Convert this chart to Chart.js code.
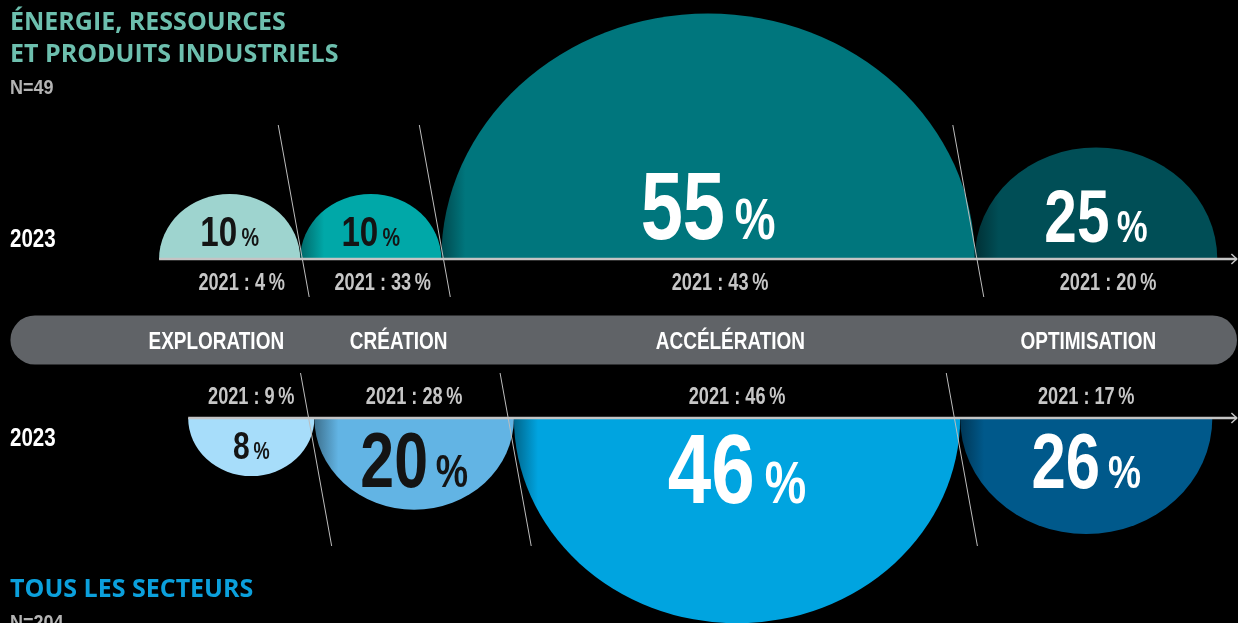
<!DOCTYPE html>
<html lang="fr">
<head>
<meta charset="utf-8">
<title>Phases 2023 / 2021</title>
<script src="https://cdn.jsdelivr.net/npm/chart.js@4.4.1/dist/chart.umd.min.js"></script>
<style>
	html, body { margin: 0; padding: 0; background: #000; }
	#wrap { position: relative; width: 1238px; height: 623px; overflow: hidden; background: #000; }
	#chart { position: absolute; left: 0; top: 0; }
	.title { position: absolute; left: 10px; font: 700 25px/32px "Open Sans", sans-serif; white-space: nowrap; }
	.count { position: absolute; left: 10px; font: 700 20px/20px "Liberation Sans", Arial, sans-serif; color: #b4b4b4; transform: scaleX(0.9); transform-origin: left top; }
</style>
</head>
<body>
<div id="wrap">
	<canvas id="chart" width="1238" height="623"></canvas>
	<div class="title" style="top:4px;color:#6dbfae">ÉNERGIE, RESSOURCES<br>ET PRODUITS INDUSTRIELS</div>
	<div class="count" style="top:77px">N=49</div>
	<div class="title" style="top:571px;color:#0ba0dc">TOUS LES SECTEURS</div>
	<div class="count" style="top:612px">N=204</div>
</div>
<script>
// Data
const PHASES = ["EXPLORATION", "CRÉATION", "ACCÉLÉRATION", "OPTIMISATION"];
const SECTOR_2023 = [10, 10, 55, 25];
const SECTOR_2021 = [4, 33, 43, 20];
const ALL_2023 = [8, 20, 46, 26];
const ALL_2021 = [9, 28, 46, 17];
const YEAR_NOW = "2023";
const YEAR_PREV = "2021";

// Layout: x in percentage points, y in pixels from the top
const PX_PER_PT = 9.7;
const X_MAX = 1238 / PX_PER_PT;
const X_END = 127.5;
const SMALL_K = 4.6; // small shares grow with sqrt so the label still fits
const FLAT = 0.92; // shapes are slightly flattened half-discs
const ROW_TOP = { y: 259, start: 16.4, up: true };
const ROW_BOTTOM = { y: 418, start: 19.4, up: false };
const BAR = { y: 340, from: 3.6, to: 125.0 };
const PHASE_X = [22.3, 41.1, 75.3, 112.2];
const SLANT = 0.18 / PX_PER_PT;

// Styles
const FONT = '"Liberation Sans", Arial, sans-serif';
const COND = 0.79; // condensed look: text is squeezed horizontally
const TOP_COLORS = ["#9ed4cf", "#00a8a8", "#00767d", "#004e56"];
const BOTTOM_COLORS = ["#a7ddfa", "#62b4e4", "#00a4e0", "#00598b"];
const TOP_TEXT = ["#141414", "#141414", "#ffffff", "#ffffff"];
const BOTTOM_TEXT = ["#141414", "#141414", "#ffffff", "#ffffff"];
const TOP_SIZE = [42, 42, 96, 74];
const BOTTOM_SIZE = [38, 77, 99, 78];
const AXIS_COLOR = "#c4c4c4";

const segments = (values, start) => {
	let x = start;
	return values.map((v) => {
		const w = Math.max(v, SMALL_K * Math.sqrt(v));
		const seg = { from: x, to: x + w, mid: x + w / 2, w };
		x += w;
		return seg;
	});
};
const topSegs = segments(SECTOR_2023, ROW_TOP.start);
const bottomSegs = segments(ALL_2023, ROW_BOTTOM.start);

const darken = (hex, f) => {
	const n = parseInt(hex.slice(1), 16);
	return `rgb(${Math.round(((n >> 16) & 255) * f)},${Math.round(((n >> 8) & 255) * f)},${Math.round((n & 255) * f)})`;
};

// Fill with a soft shade on the left edge where the shape overlaps its neighbour
const shapeFill = (colors) => (c) => {
	const color = colors[c.dataIndex];
	const xs = c.chart.scales.x;
	if (c.dataIndex === 0 || !xs) return color;
	const left = xs.getPixelForValue(c.raw.x - c.raw.w / 2);
	if (!Number.isFinite(left)) return color;
	const g = c.chart.ctx.createLinearGradient(left, 0, left + 24, 0);
	g.addColorStop(0, darken(color, 0.62));
	g.addColorStop(1, color);
	return g;
};
const shapeRadius = (c) => {
	const xs = c.chart.scales.x;
	if (!xs) return 0;
	const r = (xs.getPixelForValue(c.raw.w) - xs.getPixelForValue(0)) / 2;
	return Number.isFinite(r) ? r : 0;
};

const shapeDataset = (segs, row, colors) => ({
	data: segs.map((s) => ({ x: s.mid, y: row.y, w: s.w })),
	row,
	clip: false,
	order: 10,
	pointStyle: "circle",
	pointRadius: shapeRadius,
	pointHoverRadius: shapeRadius,
	pointBackgroundColor: shapeFill(colors),
	pointBorderWidth: 0,
	pointHoverBorderWidth: 0,
});

const lineDataset = (data, color, width, order, cap) => ({
	data,
	showLine: true,
	fill: false,
	tension: 0,
	borderColor: color,
	borderWidth: width,
	borderCapStyle: cap || "butt",
	pointRadius: 0,
	pointHoverRadius: 0,
	order,
});

// Slanted dividers between phases, crossing each boundary at "cross"
const dividers = (segs, y1, y2, cross) =>
	segs.slice(1).map((s) =>
		lineDataset(
			[
				{ x: s.from + SLANT * (y1 - cross), y: y1 },
				{ x: s.from + SLANT * (y2 - cross), y: y2 },
			],
			"#bdbdbd",
			1,
			5
		)
	);

const axisLine = (segs, row) => [
	lineDataset([{ x: segs[0].from, y: row.y }, { x: X_END, y: row.y }], AXIS_COLOR, 2.5, 1),
	lineDataset(
		[
			{ x: X_END - 0.55, y: row.y - 5 },
			{ x: X_END, y: row.y },
			{ x: X_END - 0.55, y: row.y + 5 },
		],
		AXIS_COLOR,
		1.5,
		1
	),
];

// Clip each row to one side of its axis and flatten the discs a little
const halfDisc = {
	id: "halfDisc",
	beforeDatasetDraw(chart, args) {
		const ds = chart.data.datasets[args.index];
		if (!ds.row) return;
		const { ctx, chartArea, scales } = chart;
		const axis = scales.y.getPixelForValue(ds.row.y);
		ctx.save();
		ctx.beginPath();
		if (ds.row.up) ctx.rect(chartArea.left, chartArea.top, chartArea.width, axis - chartArea.top);
		else ctx.rect(chartArea.left, axis, chartArea.width, chartArea.bottom - axis);
		ctx.clip();
		ctx.translate(0, axis);
		ctx.scale(1, FLAT);
		ctx.translate(0, -axis);
	},
	afterDatasetDraw(chart, args) {
		if (chart.data.datasets[args.index].row) chart.ctx.restore();
	},
};

// Text squeezed to a condensed width (still plain text)
const condWidth = (ctx, text) => ctx.measureText(text).width * COND;
const fillCond = (ctx, text, x, y) => ctx.fillText(text, x, y, condWidth(ctx, text));

const drawPct = (ctx, value, cx, baseline, size, color) => {
	const big = `bold ${size}px ${FONT}`;
	const small = `bold ${Math.round(size * 0.6)}px ${FONT}`;
	const digits = String(value);
	ctx.font = big;
	const wd = condWidth(ctx, digits);
	ctx.font = small;
	const wp = condWidth(ctx, "%");
	const gap = size * 0.1;
	const x0 = cx - (wd + gap + wp) / 2;
	ctx.textAlign = "left";
	ctx.fillStyle = color;
	ctx.font = big;
	ctx.fillText(digits, x0, baseline, wd);
	ctx.font = small;
	ctx.fillText("%", x0 + wd + gap, baseline, wp);
};

const labels = {
	id: "labels",
	afterDatasetsDraw(chart) {
		const { ctx, scales } = chart;
		const xs = scales.x;
		const ys = scales.y;
		const topAxis = ys.getPixelForValue(ROW_TOP.y);
		const botAxis = ys.getPixelForValue(ROW_BOTTOM.y);
		ctx.save();
		ctx.textBaseline = "alphabetic";

		// 2023 values inside the shapes
		topSegs.forEach((s, i) => {
			const size = TOP_SIZE[i];
			drawPct(ctx, SECTOR_2023[i], xs.getPixelForValue(s.mid), topAxis - (8 + size * 0.12), size, TOP_TEXT[i]);
		});
		bottomSegs.forEach((s, i) => {
			const size = BOTTOM_SIZE[i];
			drawPct(ctx, ALL_2023[i], xs.getPixelForValue(s.mid), botAxis + 14 + size * 0.716, size, BOTTOM_TEXT[i]);
		});

		// 2021 reminders
		ctx.textAlign = "center";
		ctx.font = `bold 23px ${FONT}`;
		ctx.fillStyle = "#c6c6c6";
		topSegs.forEach((s, i) => {
			fillCond(ctx, `${YEAR_PREV} : ${SECTOR_2021[i]}\u2009%`, xs.getPixelForValue(s.mid) + 12, topAxis + 31);
		});
		bottomSegs.forEach((s, i) => {
			fillCond(ctx, `${YEAR_PREV} : ${ALL_2021[i]}\u2009%`, xs.getPixelForValue(s.mid), botAxis - 14);
		});

		// Phase names on the bar
		ctx.fillStyle = "#ffffff";
		ctx.font = `bold 24px ${FONT}`;
		const barY = ys.getPixelForValue(BAR.y);
		PHASES.forEach((p, i) => fillCond(ctx, p, xs.getPixelForValue(PHASE_X[i]), barY + 9));

		// Row year
		ctx.textAlign = "left";
		ctx.font = `bold 26px ${FONT}`;
		fillCond(ctx, YEAR_NOW, 10, topAxis - 12);
		fillCond(ctx, YEAR_NOW, 10, botAxis + 28);
		ctx.restore();
	},
};

new Chart(document.getElementById("chart"), {
	type: "scatter",
	data: {
		datasets: [
			lineDataset([{ x: BAR.from, y: BAR.y }, { x: BAR.to, y: BAR.y }], "#606367", 49, 20, "round"),
			shapeDataset(topSegs, ROW_TOP, TOP_COLORS),
			shapeDataset(bottomSegs, ROW_BOTTOM, BOTTOM_COLORS),
			...dividers(topSegs, 125, 297, 247),
			...dividers(bottomSegs, 373, 546, 450),
			...axisLine(topSegs, ROW_TOP),
			...axisLine(bottomSegs, ROW_BOTTOM),
		],
	},
	options: {
		responsive: false,
		animation: false,
		events: [],
		layout: { padding: 0 },
		scales: {
			x: { type: "linear", display: false, min: 0, max: X_MAX },
			y: { type: "linear", display: false, min: 0, max: 623, reverse: true },
		},
		plugins: {
			legend: { display: false },
			tooltip: { enabled: false },
		},
	},
	plugins: [halfDisc, labels],
});
</script>
</body>
</html>
